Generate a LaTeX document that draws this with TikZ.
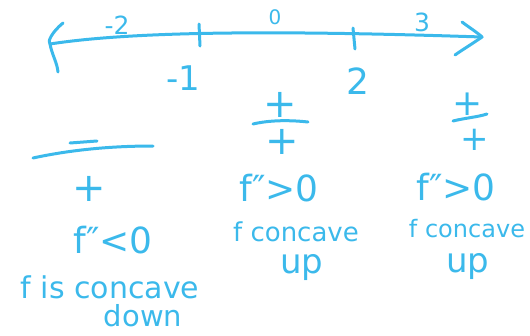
\documentclass[tikz,border=0pt]{standalone}
\usepackage{fontspec}
\setmainfont{DejaVu Sans}
\definecolor{ink}{HTML}{3BB9EB}
\begin{document}
\begin{tikzpicture}[x=1pt,y=-1pt,
  pen/.style={draw=ink, line width=3pt, line cap=round, line join=round},
  lbl/.style={text=ink, inner sep=0pt, anchor=center},
  small/.style={lbl, font=\fontsize{25}{27}\selectfont},
  big/.style={lbl, font=\fontsize{36}{38}\selectfont},
  mid/.style={lbl, font=\fontsize{26}{28}\selectfont},
  sign/.style={lbl, font=\fontsize{40}{40}\selectfont}]
\useasboundingbox (0,0) rectangle (530,335);
% number line
\coordinate (L) at (50,44);
\coordinate (R) at (482,37);
\draw[pen] (L) .. controls (140,30) and (300,31) .. (R);
\draw[pen] (63,23) .. controls (52,32) and (47,42) .. (L) .. controls (52,55) and (57,62) .. (58,72);
\draw[pen] (462,22) .. controls (470,28) and (478,33) .. (R) .. controls (472,44) and (462,50) .. (455,55);
% ticks
\coordinate (t1a) at (199,24); \coordinate (t1b) at (200,46);
\coordinate (t2a) at (353,28); \coordinate (t2b) at (355,49);
\draw[pen] (t1a) -- (t1b);
\draw[pen] (t2a) -- (t2b);
% labels on line
\node[small] (m2) at (117,25) {-2};
\node[lbl, font=\fontsize{20}{22}\selectfont] (z) at (275,17) {0};
\node[small] (th) at (422,22) {3};
\node[lbl, font=\fontsize{34}{36}\selectfont] (m1) at (183,78) {-1};
\node[lbl, font=\fontsize{36}{38}\selectfont] (tw) at (358,81) {2};
% left column
\coordinate (lm1) at (70,143); \coordinate (lm2) at (97,141);
\draw[pen] (lm1) -- (lm2);
\coordinate (lb1) at (33,158); \coordinate (lb2) at (153,146);
\draw[pen] (lb1) .. controls (70,150) and (110,146) .. (lb2);
\node[sign] (lp) at (89,189) {+};
\node[big] (lf) at (113,240) {f″<0};
\node[lbl, font=\fontsize{30}{32}\selectfont] (lc) at (110,287) {f is concave};
\node[lbl, font=\fontsize{29}{31}\selectfont] (ld) at (143,316) {down};
% middle column
\node[sign] (mp1) at (280,105) {+};
\coordinate (mb1) at (253,124); \coordinate (mb2) at (308,122);
\draw[pen] (mb1) .. controls (270,120) and (290,120) .. (mb2);
\node[sign] (mp2) at (282,142) {+};
\node[big] (mf) at (279,188) {f″>0};
\node[mid] (mc) at (296,232) {f concave};
\node[lbl, font=\fontsize{34}{36}\selectfont] (mu) at (302,268) {up};
% right column
\node[lbl, font=\fontsize{36}{36}\selectfont] (rp1) at (468,104) {+};
\coordinate (rb1) at (453,121); \coordinate (rb2) at (487,114);
\draw[pen] (rb1) .. controls (465,118) and (478,117) .. (rb2);
\node[lbl, font=\fontsize{34}{34}\selectfont] (rp2) at (475,140) {+};
\node[big] (rf) at (456,187) {f″>0};
\node[lbl, font=\fontsize{24}{26}\selectfont] (rc) at (467,229) {f concave};
\node[lbl, font=\fontsize{34}{36}\selectfont] (ru) at (468,267) {up};
\end{tikzpicture}
\end{document}
